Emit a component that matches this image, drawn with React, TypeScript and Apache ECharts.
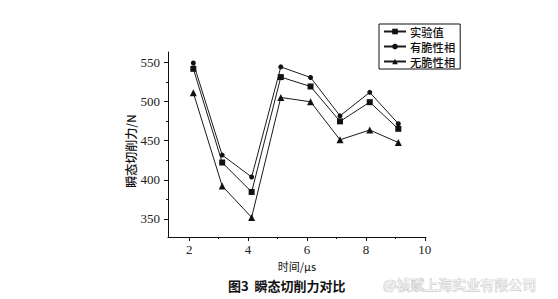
import React, { useEffect, useRef } from "react";
import * as echarts from "echarts";

const timeUs = [2.14, 3.12, 4.12, 5.11, 6.12, 7.12, 8.13, 9.1];
const experimental = [541.5, 422, 384.5, 531, 519, 474.5, 499, 465];
const withBrittle = [549, 431.5, 403.5, 544, 530.5, 481.5, 511.5, 471.5];
const withoutBrittle = [511, 392, 352, 505, 499.5, 451, 463.5, 447.5];

const seriesNames = ["实验值", "有脆性相", "无脆性相"];
const yMajorTicks = [350, 400, 450, 500, 550];
const yMinorTicks = [375, 425, 475, 525];
const xMajorTicks = [2, 4, 6, 8, 10];
const xMinorTicks = [3, 5, 7, 9];

const SERIF = '"Liberation Serif", "Times New Roman", serif';
const CJK = '"Noto Sans CJK SC", sans-serif';

export default function App() {
  const ref = useRef<HTMLDivElement>(null);
  useEffect(() => {
    if (!ref.current) return;
    const chart = echarts.init(ref.current, undefined, { renderer: "svg" });
    const pairs = (ys: number[]) => ys.map((v, i) => [timeUs[i], v]);
    const yMin = 327, yMax = 563, xMin = 1.28, xMax = 10.04;
    const lineStyle = { color: "#1a1a1a", width: 1 };
    const mk = (name: string, data: number[], symbol: string, size: number) => ({
      name,
      type: "line",
      data: pairs(data),
      symbol,
      symbolSize: size,
      lineStyle,
      itemStyle: { color: "#111" },
      xAxisIndex: 0,
      yAxisIndex: 0,
    });
    chart.setOption({
      animation: false,
      backgroundColor: "#ffffff",
      grid: { left: 168, right: 132, top: 52, bottom: 62 },
      legend: {
        orient: "vertical",
        left: 379,
        top: 24,
        data: seriesNames,
        itemWidth: 22,
        itemHeight: 7,
        itemGap: 2,
        padding: [1, 5, 1, 4],
        borderColor: "#111",
        borderWidth: 1,
        borderRadius: 0,
        textStyle: { fontFamily: CJK, fontSize: 11.3, fontWeight: 500, color: "#111", lineHeight: 13, padding: [0, 0, 0, -1] },
      },
      xAxis: [
        {
          type: "value",
          min: xMin,
          max: xMax,
          axisLine: { lineStyle: { color: "#111", width: 1 } },
          axisTick: { customValues: xMajorTicks, length: 4, lineStyle: { color: "#111" } },
          axisLabel: { customValues: xMajorTicks, margin: 6, fontFamily: SERIF, fontSize: 13, color: "#222" },
          splitLine: { show: false },
          name: "时间/μs",
          nameLocation: "middle",
          nameGap: 19,
          nameTextStyle: { fontFamily: CJK, fontSize: 11, color: "#111" },
        },
        {
          type: "value",
          min: xMin,
          max: xMax,
          position: "bottom",
          axisLine: { show: false },
          axisTick: { customValues: xMinorTicks, length: 2, lineStyle: { color: "#111" } },
          axisLabel: { show: false },
          splitLine: { show: false },
        },
      ],
      yAxis: [
        {
          type: "value",
          min: yMin,
          max: yMax,
          axisLine: { show: true, lineStyle: { color: "#111", width: 1 } },
          axisTick: { show: true, customValues: yMajorTicks, length: 4, lineStyle: { color: "#111" } },
          axisLabel: { customValues: yMajorTicks, margin: 8, fontFamily: SERIF, fontSize: 13, color: "#222" },
          splitLine: { show: false },
        },
        {
          type: "value",
          min: yMin,
          max: yMax,
          position: "left",
          axisLine: { show: false },
          axisTick: { show: true, customValues: yMinorTicks, length: 2, lineStyle: { color: "#111" } },
          axisLabel: { show: false },
          splitLine: { show: false },
        },
      ],
      graphic: [
        {
          type: "text",
          x: 130,
          y: 151,
          rotation: Math.PI / 2,
          style: {
            text: "瞬态切削力/N",
            fontFamily: CJK,
            fontSize: 12,
            fontWeight: 500,
            fill: "#111",
            align: "center",
            verticalAlign: "middle",
          },
        },
        {
          type: "text",
          x: 228,
          y: 285,
          style: {
            text: "图3  瞬态切削力对比",
            fontFamily: CJK,
            fontSize: 13,
            fontWeight: "bold",
            fill: "#111",
            align: "left",
            verticalAlign: "middle",
          },
        },
        {
          type: "text",
          x: 383,
          y: 284,
          style: {
            text: "@祯赋上海实业有限公司",
            fontFamily: CJK,
            fontSize: 14,
            fill: "#f2f2f2",
            stroke: "#b8b8b8",
            lineWidth: 0.7,
            align: "left",
            verticalAlign: "middle",
          },
        },
      ],
      series: [
        mk(seriesNames[0], experimental, "rect", 6),
        mk(seriesNames[1], withBrittle, "circle", 5),
        mk(seriesNames[2], withoutBrittle, "triangle", 7),
      ],
    });
    return () => chart.dispose();
  }, []);
  return <div ref={ref} style={{ width: 558, height: 299, position: "absolute", left: 0, top: 0 }} />;
}
